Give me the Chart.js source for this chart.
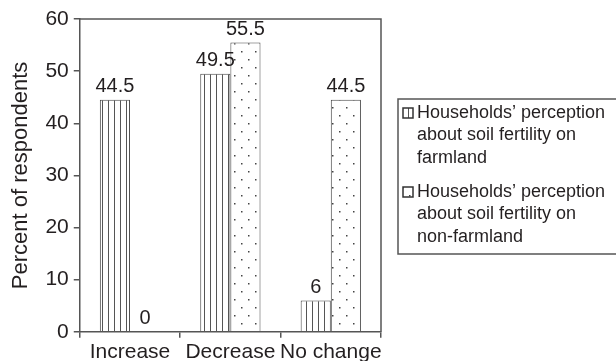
<!DOCTYPE html>
<html>
<head>
<meta charset="utf-8">
<script src="https://cdn.jsdelivr.net/npm/chart.js@4.4.1/dist/chart.umd.min.js"></script>
<style>
  html, body { margin: 0; padding: 0; background: #fff; overflow: hidden; }
  #wrap { width: 616px; height: 367px; position: relative; }
</style>
</head>
<body>
<div id="wrap"><canvas id="soil-chart"></canvas></div>
<script>
const categories = ['Increase', 'Decrease', 'No change'];
const farmland = [44.5, 49.5, 6];
const nonFarmland = [0, 55.5, 44.5];
const seriesNames = [
  ['Households\u2019 perception', 'about soil fertility on', 'farmland'],
  ['Households\u2019 perception', 'about soil fertility on', 'non-farmland']
];

const ink = '#231f20';
const lineGray = '#555';
const FONT = 'Liberation Sans, Arial, sans-serif';

// vertical stripes for farmland
function stripePattern() {
  const c = document.createElement('canvas');
  c.width = 6; c.height = 6;
  const g = c.getContext('2d');
  g.fillStyle = '#fff';
  g.fillRect(0, 0, 6, 6);
  g.fillStyle = '#555';
  g.fillRect(0, 0, 1, 6);
  return g.createPattern(c, 'repeat');
}

// sparse dots for non-farmland
function dotPattern() {
  const c = document.createElement('canvas');
  c.width = 14; c.height = 16;
  const g = c.getContext('2d');
  g.fillStyle = '#fff';
  g.fillRect(0, 0, 14, 16);
  g.fillStyle = '#444';
  g.fillRect(3, 3, 1.5, 1.5);
  g.fillRect(10, 11, 1.5, 1.5);
  return g.createPattern(c, 'repeat');
}

const stripes = stripePattern();
const dots = dotPattern();

const frame = {
  id: 'frame',
  afterDatasetsDraw(chart) {
    const a = chart.chartArea;
    const ctx = chart.ctx;
    ctx.save();
    ctx.strokeStyle = lineGray;
    ctx.lineWidth = 1.5;
    ctx.beginPath();
    ctx.moveTo(a.left, a.top);
    ctx.lineTo(a.right, a.top);
    ctx.lineTo(a.right, a.bottom);
    ctx.stroke();
    ctx.restore();
  }
};

const valueLabels = {
  id: 'valueLabels',
  afterDatasetsDraw(chart) {
    const ctx = chart.ctx;
    ctx.save();
    ctx.font = '20px ' + FONT;
    ctx.fillStyle = ink;
    ctx.textAlign = 'center';
    ctx.textBaseline = 'bottom';
    chart.data.datasets.forEach((ds, i) => {
      chart.getDatasetMeta(i).data.forEach((bar, j) => {
        ctx.fillText(String(ds.data[j]), bar.x, bar.y - 3);
      });
    });
    ctx.restore();
  }
};

const boxLegend = {
  id: 'boxLegend',
  afterDraw(chart) {
    const ctx = chart.ctx;
    const x0 = 398, y0 = 99;
    ctx.save();
    ctx.strokeStyle = lineGray;
    ctx.lineWidth = 1.5;
    ctx.strokeRect(x0, y0, 240, 155);
    ctx.font = '18px ' + FONT;
    ctx.fillStyle = ink;
    ctx.textBaseline = 'middle';
    const fills = [stripes, dots];
    seriesNames.forEach((lines, i) => {
      const top = y0 + 14 + i * 79;
      ctx.fillStyle = fills[i];
      ctx.fillRect(403, top - 5, 10, 10);
      ctx.strokeStyle = '#333';
      ctx.lineWidth = 1.5;
      ctx.strokeRect(403, top - 5, 10, 10);
      ctx.fillStyle = ink;
      lines.forEach((t, k) => ctx.fillText(t, 417, top + k * 22.5));
    });
    ctx.restore();
  }
};

new Chart(document.getElementById('soil-chart'), {
  type: 'bar',
  data: {
    labels: categories,
    datasets: [
      {
        label: seriesNames[0].join(' '),
        data: farmland,
        backgroundColor: stripes,
        borderColor: '#444',
        borderWidth: 1
      },
      {
        label: seriesNames[1].join(' '),
        data: nonFarmland,
        backgroundColor: dots,
        borderColor: '#444',
        borderWidth: 1
      }
    ]
  },
  options: {
    responsive: true,
    maintainAspectRatio: false,
    animation: false,
    layout: { padding: { left: 8, right: 235, top: 19, bottom: 0 } },
    datasets: {
      bar: { categoryPercentage: 0.6, barPercentage: 1.0 }
    },
    plugins: {
      legend: { display: false },
      tooltip: { enabled: false }
    },
    scales: {
      x: {
        offset: true,
        grid: {
          offset: true,
          drawOnChartArea: false,
          drawTicks: true,
          tickLength: 6,
          color: lineGray,
          lineWidth: 1.5
        },
        border: { color: lineGray, width: 1.5 },
        ticks: {
          color: ink,
          padding: 2,
          maxRotation: 0,
          autoSkip: false,
          font: { size: 21, family: FONT }
        }
      },
      y: {
        min: 0,
        max: 60,
        ticks: {
          stepSize: 10,
          color: ink,
          padding: 5,
          font: { size: 21, family: FONT }
        },
        grid: {
          drawOnChartArea: false,
          drawTicks: true,
          tickLength: 6,
          color: lineGray,
          lineWidth: 1.5
        },
        border: { color: lineGray, width: 1.5 },
        title: {
          display: true,
          text: 'Percent of respondents',
          color: ink,
          padding: { top: 0, bottom: 6 },
          font: { size: 22, family: FONT }
        }
      }
    }
  },
  plugins: [frame, valueLabels, boxLegend]
});
</script>
</body>
</html>
